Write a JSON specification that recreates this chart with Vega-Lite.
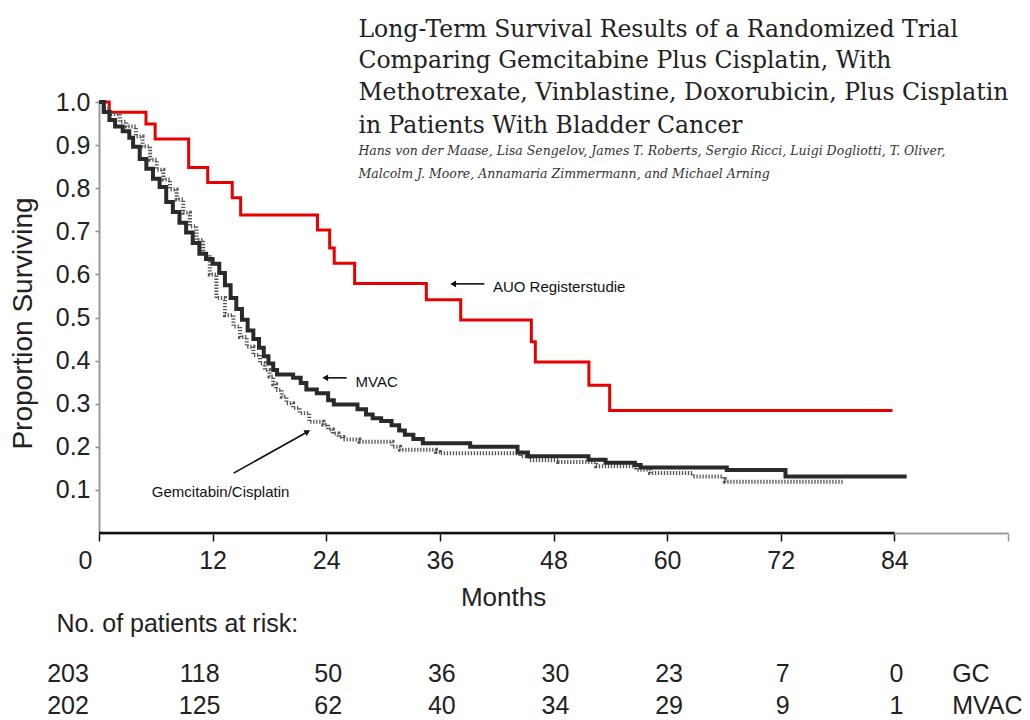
{
  "$schema": "https://vega.github.io/schema/vega-lite/v6.json",
  "width": 909,
  "height": 431,
  "autosize": {"type": "none"},
  "padding": {"left": 99, "top": 102, "right": 22, "bottom": 187},
  "background": "white",
  "config": {"view": {"stroke": null}, "font": "Liberation Sans"},
  "datasets": {
    "km": [
      {"group": "AUO Registerstudie", "month": 0, "survival": 1.0},
      {"group": "AUO Registerstudie", "month": 1.08, "survival": 0.976},
      {"group": "AUO Registerstudie", "month": 4.96, "survival": 0.949},
      {"group": "AUO Registerstudie", "month": 5.93, "survival": 0.914},
      {"group": "AUO Registerstudie", "month": 9.47, "survival": 0.848},
      {"group": "AUO Registerstudie", "month": 11.48, "survival": 0.813},
      {"group": "AUO Registerstudie", "month": 14.07, "survival": 0.778},
      {"group": "AUO Registerstudie", "month": 14.96, "survival": 0.738},
      {"group": "AUO Registerstudie", "month": 23.07, "survival": 0.703},
      {"group": "AUO Registerstudie", "month": 24.36, "survival": 0.661},
      {"group": "AUO Registerstudie", "month": 24.84, "survival": 0.626},
      {"group": "AUO Registerstudie", "month": 27.0, "survival": 0.579},
      {"group": "AUO Registerstudie", "month": 34.57, "survival": 0.541},
      {"group": "AUO Registerstudie", "month": 38.2, "survival": 0.494},
      {"group": "AUO Registerstudie", "month": 45.66, "survival": 0.444},
      {"group": "AUO Registerstudie", "month": 46.08, "survival": 0.397},
      {"group": "AUO Registerstudie", "month": 51.74, "survival": 0.343},
      {"group": "AUO Registerstudie", "month": 53.93, "survival": 0.284},
      {"group": "AUO Registerstudie", "month": 83.8, "survival": 0.284},

      {"group": "MVAC", "month": 0, "survival": 1.0},
      {"group": "MVAC", "month": 0.5, "survival": 0.977},
      {"group": "MVAC", "month": 1.1, "survival": 0.958},
      {"group": "MVAC", "month": 1.7, "survival": 0.943},
      {"group": "MVAC", "month": 2.5, "survival": 0.932},
      {"group": "MVAC", "month": 3.2, "survival": 0.917},
      {"group": "MVAC", "month": 3.6, "survival": 0.896},
      {"group": "MVAC", "month": 4.3, "survival": 0.868},
      {"group": "MVAC", "month": 5.0, "survival": 0.845},
      {"group": "MVAC", "month": 5.7, "survival": 0.822},
      {"group": "MVAC", "month": 6.4, "survival": 0.803},
      {"group": "MVAC", "month": 7.1, "survival": 0.768},
      {"group": "MVAC", "month": 7.8, "survival": 0.745},
      {"group": "MVAC", "month": 8.5, "survival": 0.72},
      {"group": "MVAC", "month": 9.2, "survival": 0.697},
      {"group": "MVAC", "month": 9.9, "survival": 0.673},
      {"group": "MVAC", "month": 10.6, "survival": 0.648},
      {"group": "MVAC", "month": 11.3, "survival": 0.636},
      {"group": "MVAC", "month": 12.0, "survival": 0.625},
      {"group": "MVAC", "month": 12.7, "survival": 0.603},
      {"group": "MVAC", "month": 13.3, "survival": 0.575},
      {"group": "MVAC", "month": 13.9, "survival": 0.545},
      {"group": "MVAC", "month": 14.5, "survival": 0.52},
      {"group": "MVAC", "month": 15.1, "survival": 0.495},
      {"group": "MVAC", "month": 15.7, "survival": 0.47},
      {"group": "MVAC", "month": 16.3, "survival": 0.45},
      {"group": "MVAC", "month": 16.9, "survival": 0.43},
      {"group": "MVAC", "month": 17.4, "survival": 0.41},
      {"group": "MVAC", "month": 17.9, "survival": 0.393},
      {"group": "MVAC", "month": 18.4, "survival": 0.378},
      {"group": "MVAC", "month": 18.8, "survival": 0.368},
      {"group": "MVAC", "month": 20.5, "survival": 0.36},
      {"group": "MVAC", "month": 21.3, "survival": 0.348},
      {"group": "MVAC", "month": 21.9, "survival": 0.333},
      {"group": "MVAC", "month": 23.0, "survival": 0.324},
      {"group": "MVAC", "month": 24.2, "survival": 0.308},
      {"group": "MVAC", "month": 24.8, "survival": 0.298},
      {"group": "MVAC", "month": 27.3, "survival": 0.287},
      {"group": "MVAC", "month": 28.2, "survival": 0.275},
      {"group": "MVAC", "month": 28.9, "survival": 0.266},
      {"group": "MVAC", "month": 29.8, "survival": 0.26},
      {"group": "MVAC", "month": 30.9, "survival": 0.25},
      {"group": "MVAC", "month": 31.7, "survival": 0.238},
      {"group": "MVAC", "month": 32.3, "survival": 0.228},
      {"group": "MVAC", "month": 33.2, "survival": 0.218},
      {"group": "MVAC", "month": 34.2, "survival": 0.208},
      {"group": "MVAC", "month": 39.2, "survival": 0.2},
      {"group": "MVAC", "month": 44.2, "survival": 0.187},
      {"group": "MVAC", "month": 45.3, "survival": 0.178},
      {"group": "MVAC", "month": 51.7, "survival": 0.17},
      {"group": "MVAC", "month": 53.5, "survival": 0.163},
      {"group": "MVAC", "month": 56.6, "survival": 0.158},
      {"group": "MVAC", "month": 57.2, "survival": 0.152},
      {"group": "MVAC", "month": 66.3, "survival": 0.146},
      {"group": "MVAC", "month": 72.5, "survival": 0.131},
      {"group": "MVAC", "month": 85.3, "survival": 0.131},

      {"group": "GC", "month": 0, "survival": 1.0},
      {"group": "GC", "month": 0.5, "survival": 0.985},
      {"group": "GC", "month": 1.1, "survival": 0.972},
      {"group": "GC", "month": 2.2, "survival": 0.954},
      {"group": "GC", "month": 2.9, "survival": 0.943},
      {"group": "GC", "month": 3.9, "survival": 0.92},
      {"group": "GC", "month": 4.6, "survival": 0.897},
      {"group": "GC", "month": 5.4, "survival": 0.866},
      {"group": "GC", "month": 6.1, "survival": 0.843},
      {"group": "GC", "month": 6.8, "survival": 0.82},
      {"group": "GC", "month": 7.5, "survival": 0.797},
      {"group": "GC", "month": 8.2, "survival": 0.774},
      {"group": "GC", "month": 8.9, "survival": 0.743},
      {"group": "GC", "month": 9.6, "survival": 0.712},
      {"group": "GC", "month": 10.3, "survival": 0.68},
      {"group": "GC", "month": 11.0, "survival": 0.645},
      {"group": "GC", "month": 11.7, "survival": 0.6},
      {"group": "GC", "month": 12.4, "survival": 0.545},
      {"group": "GC", "month": 13.3, "survival": 0.505},
      {"group": "GC", "month": 14.2, "survival": 0.479},
      {"group": "GC", "month": 14.9, "survival": 0.455},
      {"group": "GC", "month": 15.6, "survival": 0.432},
      {"group": "GC", "month": 16.3, "survival": 0.413},
      {"group": "GC", "month": 17.0, "survival": 0.394},
      {"group": "GC", "month": 17.5, "survival": 0.378},
      {"group": "GC", "month": 18.0, "survival": 0.363},
      {"group": "GC", "month": 18.4, "survival": 0.345},
      {"group": "GC", "month": 18.7, "survival": 0.332},
      {"group": "GC", "month": 19.3, "survival": 0.316},
      {"group": "GC", "month": 19.8, "survival": 0.301},
      {"group": "GC", "month": 20.5, "survival": 0.29},
      {"group": "GC", "month": 21.2, "survival": 0.278},
      {"group": "GC", "month": 22.2, "survival": 0.258},
      {"group": "GC", "month": 23.7, "survival": 0.251},
      {"group": "GC", "month": 24.2, "survival": 0.24},
      {"group": "GC", "month": 24.7, "survival": 0.231},
      {"group": "GC", "month": 25.3, "survival": 0.223},
      {"group": "GC", "month": 25.8, "survival": 0.217},
      {"group": "GC", "month": 27.5, "survival": 0.212},
      {"group": "GC", "month": 31.0, "survival": 0.2},
      {"group": "GC", "month": 31.8, "survival": 0.193},
      {"group": "GC", "month": 35.6, "survival": 0.188},
      {"group": "GC", "month": 36.0, "survival": 0.185},
      {"group": "GC", "month": 44.5, "survival": 0.178},
      {"group": "GC", "month": 45.5, "survival": 0.169},
      {"group": "GC", "month": 48.5, "survival": 0.165},
      {"group": "GC", "month": 52.5, "survival": 0.155},
      {"group": "GC", "month": 56.7, "survival": 0.147},
      {"group": "GC", "month": 58.2, "survival": 0.139},
      {"group": "GC", "month": 62.7, "survival": 0.131},
      {"group": "GC", "month": 65.9, "survival": 0.125},
      {"group": "GC", "month": 66.1, "survival": 0.119},
      {"group": "GC", "month": 78.6, "survival": 0.119}
    ],
    "risk": [
      {"month": 0, "GC": 203, "MVAC": 202},
      {"month": 12, "GC": 118, "MVAC": 125},
      {"month": 24, "GC": 50, "MVAC": 62},
      {"month": 36, "GC": 36, "MVAC": 40},
      {"month": 48, "GC": 30, "MVAC": 34},
      {"month": 60, "GC": 23, "MVAC": 29},
      {"month": 72, "GC": 7, "MVAC": 9},
      {"month": 84, "GC": 0, "MVAC": 1}
    ],
    "titles": [
      {"text": "Long-Term Survival Results of a Randomized Trial", "month": 27.4, "survival": 1.151},
      {"text": "Comparing Gemcitabine Plus Cisplatin, With", "month": 27.4, "survival": 1.079},
      {"text": "Methotrexate, Vinblastine, Doxorubicin, Plus Cisplatin", "month": 27.4, "survival": 1.005},
      {"text": "in Patients With Bladder Cancer", "month": 27.4, "survival": 0.928}
    ],
    "authors": [
      {"text": "Hans von der Maase, Lisa Sengelov, James T. Roberts, Sergio Ricci, Luigi Dogliotti, T. Oliver,", "month": 27.4, "survival": 0.877},
      {"text": "Malcolm J. Moore, Annamaria Zimmermann, and Michael Arning", "month": 27.4, "survival": 0.824}
    ],
    "labels": [
      {"text": "AUO Registerstudie", "month": 41.6, "survival": 0.559},
      {"text": "MVAC", "month": 27.1, "survival": 0.338},
      {"text": "Gemcitabin/Cisplatin", "month": 5.58, "survival": 0.0835}
    ],
    "arrows": [
      {"name": "AUO", "month": 40.7, "survival": 0.578, "month2": 37.6, "survival2": 0.578},
      {"name": "MVAC", "month": 26.15, "survival": 0.36, "month2": 24.1, "survival2": 0.36},
      {"name": "GC", "month": 14.22, "survival": 0.139, "month2": 21.8, "survival2": 0.232}
    ],
    "heads": [
      {"name": "AUO", "month": 37.4, "survival": 0.578},
      {"name": "MVAC", "month": 23.89, "survival": 0.36}
    ],
    "headsDiag": [
      {"name": "GC", "month": 22.03, "survival": 0.235}
    ]
  },
  "layer": [
    {
      "data": {"name": "km"},
      "transform": [{"filter": "datum.group == 'AUO Registerstudie'"}],
      "mark": {"type": "line", "interpolate": "step-after", "color": "#e60000", "strokeWidth": 3},
      "encoding": {
        "x": {
          "field": "month", "type": "quantitative",
          "scale": {"domain": [0, 96], "nice": false, "zero": false},
          "axis": {
            "values": [0, 12, 24, 36, 48, 60, 72, 84, 96],
            "format": "d",
            "labelExpr": "datum.value == 96 ? '' : datum.label",
            "title": "Months",
            "titleFont": "Liberation Sans",
            "titleFontSize": 26,
            "titleFontWeight": "normal",
            "titleColor": "#222",
            "titleX": 404,
            "titleY": 72,
            "titleAlign": "center",
            "titleBaseline": "alphabetic",
            "labelFont": "Liberation Sans",
            "labelFontSize": 25,
            "labelColor": "#222",
            "labelBaseline": "alphabetic",
            "labelPadding": 27,
            "labelFlush": false,
            "labelOverlap": false,
            "labelOffset": {"condition": {"test": "datum.value == 0", "value": -14}, "value": 0},
            "tickSize": 8,
            "tickWidth": 1.5,
            "tickColor": {"condition": {"test": "datum.value == 96", "value": "#999"}, "value": "#111"},
            "domainColor": "#999",
            "domainWidth": 2,
            "grid": false
          }
        },
        "y": {
          "field": "survival", "type": "quantitative",
          "scale": {"domain": [0, 1], "nice": false},
          "axis": {
            "values": [0.1, 0.2, 0.3, 0.4, 0.5, 0.6, 0.7, 0.8, 0.9, 1.0],
            "format": ".1f",
            "title": "Proportion Surviving",
            "titleFont": "Liberation Sans",
            "titleFontSize": 28,
            "titleFontWeight": "normal",
            "titleColor": "#222",
            "titleX": -76,
            "titleY": 221,
            "titleAlign": "center",
            "titleBaseline": "middle",
            "titleAngle": 270,
            "labelFont": "Liberation Sans",
            "labelFontSize": 25,
            "labelColor": "#222",
            "labelPadding": 5,
            "labelFlush": false,
            "tickSize": 4,
            "tickWidth": 1.5,
            "tickColor": "#888",
            "domainColor": "#999",
            "domainWidth": 2,
            "grid": false
          }
        }
      }
    },
    {
      "data": {"values": [{}]},
      "mark": {"type": "rule", "color": "#111", "strokeWidth": 2.5},
      "encoding": {"x": {"datum": 0}, "x2": {"datum": 84}, "y": {"datum": 0}}
    },
    {
      "data": {"name": "km"},
      "transform": [{"filter": "datum.group == 'GC'"}],
      "mark": {"type": "line", "interpolate": "step-after", "color": "#555", "strokeWidth": 4, "strokeDash": [1.3, 1.7]},
      "encoding": {
        "x": {"field": "month", "type": "quantitative"},
        "y": {"field": "survival", "type": "quantitative"}
      }
    },
    {
      "data": {"name": "km"},
      "transform": [{"filter": "datum.group == 'MVAC'"}],
      "mark": {"type": "line", "interpolate": "step-after", "color": "#2a2a2a", "strokeWidth": 4},
      "encoding": {
        "x": {"field": "month", "type": "quantitative"},
        "y": {"field": "survival", "type": "quantitative"}
      }
    },
    {
      "data": {"name": "titles"},
      "mark": {"type": "text", "align": "left", "baseline": "alphabetic", "font": "DejaVu Serif", "fontSize": 23.5, "color": "#222"},
      "encoding": {
        "x": {"field": "month", "type": "quantitative"},
        "y": {"field": "survival", "type": "quantitative"},
        "text": {"field": "text"}
      }
    },
    {
      "data": {"name": "authors"},
      "mark": {"type": "text", "align": "left", "baseline": "alphabetic", "font": "DejaVu Serif", "fontStyle": "italic", "fontSize": 12.5, "color": "#333"},
      "encoding": {
        "x": {"field": "month", "type": "quantitative"},
        "y": {"field": "survival", "type": "quantitative"},
        "text": {"field": "text"}
      }
    },
    {
      "data": {"name": "labels"},
      "mark": {"type": "text", "align": "left", "baseline": "alphabetic", "font": "Liberation Sans", "fontSize": 15, "color": "#111"},
      "encoding": {
        "x": {"field": "month", "type": "quantitative"},
        "y": {"field": "survival", "type": "quantitative"},
        "text": {"field": "text"}
      }
    },
    {
      "data": {"name": "arrows"},
      "mark": {"type": "rule", "color": "#111", "strokeWidth": 1.6},
      "encoding": {
        "x": {"field": "month", "type": "quantitative"},
        "y": {"field": "survival", "type": "quantitative"},
        "x2": {"field": "month2"},
        "y2": {"field": "survival2"}
      }
    },
    {
      "data": {"name": "heads"},
      "mark": {"type": "point", "shape": "triangle-left", "filled": true, "color": "#111", "size": 45, "opacity": 1},
      "encoding": {
        "x": {"field": "month", "type": "quantitative"},
        "y": {"field": "survival", "type": "quantitative"}
      }
    },
    {
      "data": {"name": "headsDiag"},
      "mark": {"type": "point", "shape": "triangle-up", "angle": 61, "filled": true, "color": "#111", "size": 45, "opacity": 1},
      "encoding": {
        "x": {"field": "month", "type": "quantitative"},
        "y": {"field": "survival", "type": "quantitative"}
      }
    },
    {
      "data": {"values": [{"text": "No. of patients at risk:"}]},
      "mark": {"type": "text", "align": "left", "baseline": "alphabetic", "font": "Liberation Sans", "fontSize": 25, "color": "#222"},
      "encoding": {
        "x": {"datum": -4.5},
        "y": {"datum": -0.229},
        "text": {"field": "text"}
      }
    },
    {
      "data": {"values": [{"arm": "GC", "survival": -0.345}, {"arm": "MVAC", "survival": -0.42}]},
      "mark": {"type": "text", "align": "left", "baseline": "alphabetic", "font": "Liberation Sans", "fontSize": 25, "color": "#222"},
      "encoding": {
        "x": {"datum": 90.1},
        "y": {"field": "survival", "type": "quantitative"},
        "text": {"field": "arm"}
      }
    },
    {
      "data": {"name": "risk"},
      "transform": [{"filter": "datum.month == 0"}],
      "mark": {"type": "text", "align": "center", "baseline": "alphabetic", "font": "Liberation Sans", "fontSize": 25, "color": "#222", "dx": -31},
      "encoding": {
        "x": {"field": "month", "type": "quantitative"},
        "y": {"datum": -0.345},
        "text": {"field": "GC"}
      }
    },
    {
      "data": {"name": "risk"},
      "transform": [{"filter": "datum.month == 12"}],
      "mark": {"type": "text", "align": "center", "baseline": "alphabetic", "font": "Liberation Sans", "fontSize": 25, "color": "#222", "dx": -13},
      "encoding": {
        "x": {"field": "month", "type": "quantitative"},
        "y": {"datum": -0.345},
        "text": {"field": "GC"}
      }
    },
    {
      "data": {"name": "risk"},
      "transform": [{"filter": "datum.month >= 24"}],
      "mark": {"type": "text", "align": "center", "baseline": "alphabetic", "font": "Liberation Sans", "fontSize": 25, "color": "#222", "dx": 2},
      "encoding": {
        "x": {"field": "month", "type": "quantitative"},
        "y": {"datum": -0.345},
        "text": {"field": "GC"}
      }
    },
    {
      "data": {"name": "risk"},
      "transform": [{"filter": "datum.month == 0"}],
      "mark": {"type": "text", "align": "center", "baseline": "alphabetic", "font": "Liberation Sans", "fontSize": 25, "color": "#222", "dx": -31},
      "encoding": {
        "x": {"field": "month", "type": "quantitative"},
        "y": {"datum": -0.42},
        "text": {"field": "MVAC"}
      }
    },
    {
      "data": {"name": "risk"},
      "transform": [{"filter": "datum.month == 12"}],
      "mark": {"type": "text", "align": "center", "baseline": "alphabetic", "font": "Liberation Sans", "fontSize": 25, "color": "#222", "dx": -13},
      "encoding": {
        "x": {"field": "month", "type": "quantitative"},
        "y": {"datum": -0.42},
        "text": {"field": "MVAC"}
      }
    },
    {
      "data": {"name": "risk"},
      "transform": [{"filter": "datum.month >= 24"}],
      "mark": {"type": "text", "align": "center", "baseline": "alphabetic", "font": "Liberation Sans", "fontSize": 25, "color": "#222", "dx": 2},
      "encoding": {
        "x": {"field": "month", "type": "quantitative"},
        "y": {"datum": -0.42},
        "text": {"field": "MVAC"}
      }
    }
  ]
}
